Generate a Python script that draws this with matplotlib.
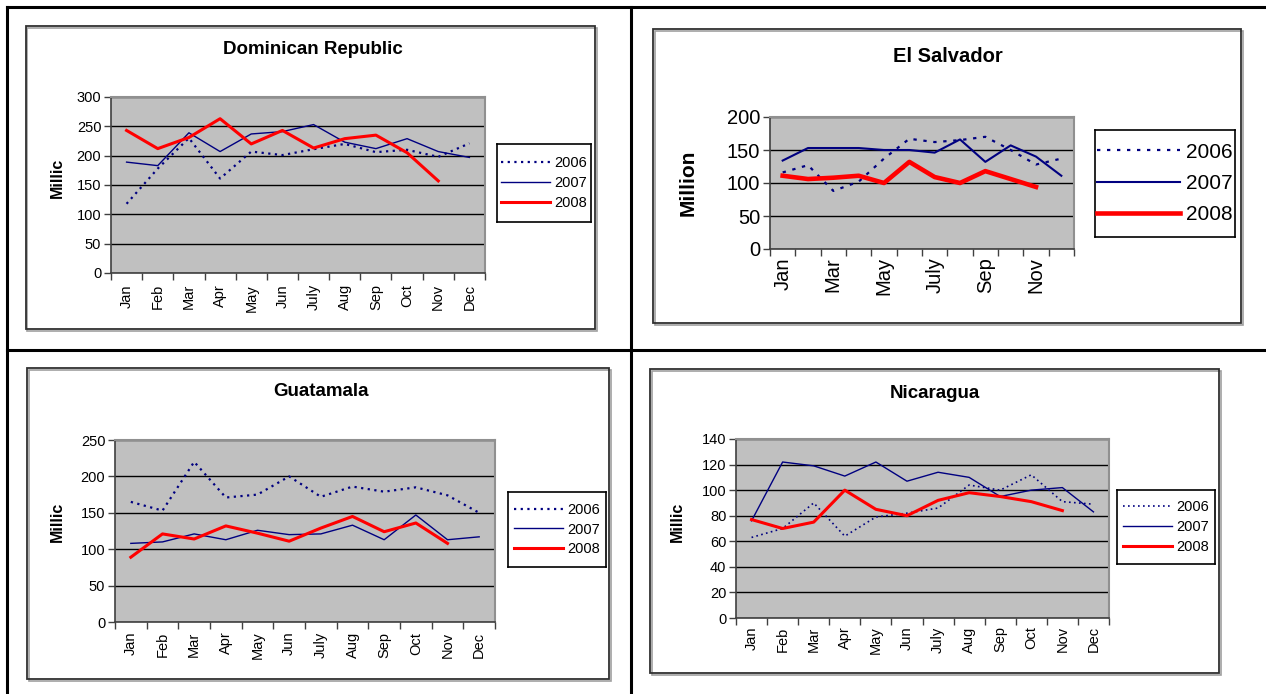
import matplotlib
matplotlib.use("Agg")
import matplotlib.pyplot as plt
from matplotlib.patches import Rectangle
from matplotlib.lines import Line2D

plt.rcParams['font.family'] = ['Liberation Sans', 'DejaVu Sans']

W, H = 1266, 694

months = ["Jan", "Feb", "Mar", "Apr", "May", "Jun", "July", "Aug", "Sep", "Oct", "Nov", "Dec"]
years = ["2006", "2007", "2008"]

# monthly values, million
dr_2006 = [118, 178, 230, 161, 207, 201, 211, 220, 206, 210, 198, 221]
dr_2007 = [189, 183, 239, 207, 237, 241, 253, 223, 212, 229, 207, 197]
dr_2008 = [243, 212, 231, 263, 220, 243, 213, 229, 235, 205, 157]

es_2006 = [116, 127, 88, 102, 137, 167, 162, 165, 170, 150, 128, 137]
es_2007 = [134, 153, 153, 153, 150, 150, 146, 166, 132, 157, 140, 111]
es_2008 = [111, 106, 108, 111, 100, 132, 109, 100, 118, 106, 94]

gu_2006 = [165, 153, 220, 171, 175, 200, 172, 186, 179, 185, 174, 150]
gu_2007 = [108, 110, 121, 113, 126, 120, 121, 133, 113, 147, 113, 117]
gu_2008 = [89, 121, 114, 132, 122, 111, 129, 145, 124, 136, 108]

ni_2006 = [63, 70, 90, 64, 79, 82, 86, 104, 100, 112, 91, 89]
ni_2007 = [76, 122, 119, 111, 122, 107, 114, 110, 95, 100, 102, 83]
ni_2008 = [77, 70, 75, 100, 85, 80, 92, 98, 95, 91, 84]


def frac(l, t, r, b):
    return [l / W, 1 - b / H, (r - l) / W, (b - t) / H]


fig = plt.figure(figsize=(W / 100, H / 100), dpi=100)

# table rules
for x0, y0, x1, y1 in [(7, 7, 1266, 7), (7, 7, 7, 694), (631, 7, 631, 694), (7, 350, 1266, 350)]:
    fig.add_artist(Line2D([x0 / W, x1 / W], [1 - y0 / H, 1 - y1 / H], color="black", lw=2.2))

panels = [
    dict(title="Dominican Republic", ylabel="Millic", data=[dr_2006, dr_2007, dr_2008],
         box=(26, 26, 595, 329), plot=(111, 97, 485, 273), ymax=300, ystep=50,
         title_xy=(313, 50), ylab_xy=(57, 178), leg=(497, 144, 591, 222),
         fs=10.5, tfs=13.5, yfs=11.5, lfs=10.5, every=1, lw=(1.6, 1.0, 2.2), dots=(1, 2), pad=8),
    dict(title="El Salvador", ylabel="Million", data=[es_2006, es_2007, es_2008],
         box=(653, 29, 1241, 323), plot=(770, 117, 1074, 249), ymax=200, ystep=50,
         title_xy=(948, 57), ylab_xy=(688, 183), leg=(1095, 130, 1235, 237),
         fs=14.5, tfs=14.5, yfs=15, lfs=15, every=2, lw=(1.6, 1.5, 3.3), dots=(1.5, 3), pad=6),
    dict(title="Guatamala", ylabel="Millic", data=[gu_2006, gu_2007, gu_2008],
         box=(27, 368, 609, 679), plot=(115, 440, 495, 622), ymax=250, ystep=50,
         title_xy=(321, 391), ylab_xy=(57, 522), leg=(508, 492, 606, 567),
         fs=10.5, tfs=13.5, yfs=11.5, lfs=10.5, every=1, lw=(1.6, 1.0, 2.2), dots=(1, 2), pad=7),
    dict(title="Nicaragua", ylabel="Millic", data=[ni_2006, ni_2007, ni_2008],
         box=(650, 369, 1219, 673), plot=(736, 439, 1109, 618), ymax=140, ystep=20,
         title_xy=(935, 393), ylab_xy=(677, 522), leg=(1117, 490, 1215, 564),
         fs=10.5, tfs=13.5, yfs=11.5, lfs=10.5, every=1, lw=(1.2, 1.0, 2.2), dots=(1, 2), pad=6),
]

navy = "#000080"
red = "#ff0000"

for p in panels:
    l, t, r, b = p["box"]
    fig.add_artist(Rectangle((l / W + 1.5 / W, 1 - b / H - 1.5 / H), (r - l) / W, (b - t) / H,
                             transform=fig.transFigure, fill=False, ec="#a0a0a0", lw=1.2))
    fig.add_artist(Rectangle((l / W, 1 - b / H), (r - l) / W, (b - t) / H,
                             transform=fig.transFigure, fill=False, ec="#303030", lw=1.3))

    ax = fig.add_axes(frac(*p["plot"]))
    ax.set_facecolor("#c0c0c0")
    d06, d07, d08 = p["data"]
    on, off = p["dots"]
    h1, = ax.plot(range(len(d06)), d06, color=navy, lw=p["lw"][0], linestyle=(0, (on, off)))
    h2, = ax.plot(range(len(d07)), d07, color=navy, lw=p["lw"][1])
    h3, = ax.plot(range(len(d08)), d08, color=red, lw=p["lw"][2])

    ax.set_xlim(-0.5, 11.5)
    ax.set_ylim(0, p["ymax"])
    yt = list(range(0, p["ymax"] + 1, p["ystep"]))
    ax.set_yticks(yt)
    ax.set_yticklabels([str(v) for v in yt], fontsize=p["fs"])
    ax.yaxis.grid(True, color="black", lw=1.0)
    ax.set_axisbelow(True)

    ax.set_xticks([i - 0.5 for i in range(13)])
    ax.set_xticklabels([])
    ax.set_xticks(range(12), minor=True)
    ax.set_xticklabels([m if i % p["every"] == 0 else "" for i, m in enumerate(months)],
                       minor=True, rotation=90, fontsize=p["fs"])
    ax.tick_params(axis="x", which="minor", length=0, pad=p["pad"])
    ax.tick_params(axis="x", which="major", length=5, width=1, color="#404040")
    ax.tick_params(axis="y", length=5, width=1, color="#404040", pad=2)

    for s in ["top", "right"]:
        ax.spines[s].set_color("#909090")
        ax.spines[s].set_linewidth(1.5)
    for s in ["left", "bottom"]:
        ax.spines[s].set_color("#404040")
        ax.spines[s].set_linewidth(1.2)

    fig.text(p["title_xy"][0] / W, 1 - p["title_xy"][1] / H, p["title"],
             ha="center", va="center", fontsize=p["tfs"], fontweight="bold")
    fig.text(p["ylab_xy"][0] / W, 1 - p["ylab_xy"][1] / H, p["ylabel"],
             ha="center", va="center", rotation=90, fontsize=p["yfs"], fontweight="bold")

    ll, lt, lr, lb = p["leg"]
    lax = fig.add_axes(frac(ll, lt, lr, lb))
    lax.set_xticks([])
    lax.set_yticks([])
    for s in lax.spines.values():
        s.set_color("black")
        s.set_linewidth(1.2)
    lax.legend([h1, h2, h3], years, loc="center", frameon=False, fontsize=p["lfs"],
               handlelength=3.4 if p["every"] == 1 else 4.0, handletextpad=0.3,
               labelspacing=0.4 if p["every"] == 1 else 0.6, borderaxespad=0)

fig.savefig("out.png", dpi=100)
